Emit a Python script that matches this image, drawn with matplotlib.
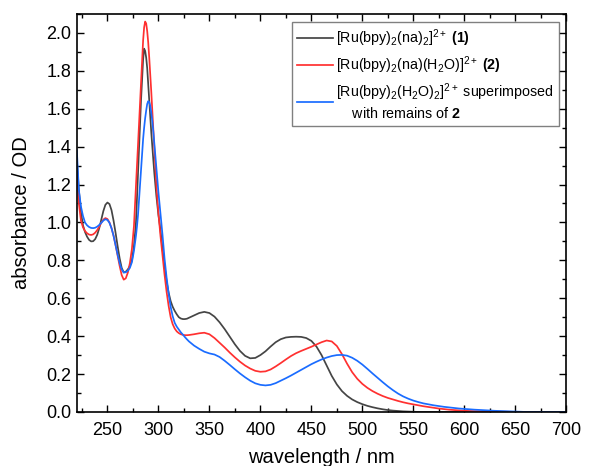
"""
plot.py

UV-vis absorbance spectra of the Ru(bpy)2 complexes.
"""
import numpy as np
import matplotlib
matplotlib.use('Agg')
import matplotlib.pyplot as plt
from matplotlib import rcParams
from matplotlib.ticker import MultipleLocator

# wavelength grid (nm), finer around the sharp band at ~287 nm
wavelength = np.concatenate([np.arange(220, 279, 2), np.arange(279, 298, 1),
                             np.arange(298, 331, 2), np.arange(335, 601, 5),
                             np.arange(610, 701, 10)])

# [Ru(bpy)2(na)2]2+ (1)
abs_1 = [1.33, 1.17, 1.055, 0.985, 0.95, 0.925, 0.908, 0.90, 0.901, 0.912,
         0.935, 0.97, 1.015, 1.06, 1.093, 1.105, 1.097, 1.065, 1.01, 0.945,
         0.875, 0.81, 0.76, 0.736, 0.74, 0.752, 0.77, 0.80, 0.875, 1.0,
         # 279-297
         1.13, 1.27, 1.40, 1.52, 1.65, 1.755, 1.86, 1.917, 1.905, 1.87,
         1.815, 1.73, 1.64, 1.555, 1.475, 1.40, 1.33, 1.26, 1.20,
         # 298-330
         1.14, 1.04, 0.96, 0.86, 0.77, 0.69, 0.63, 0.585, 0.555, 0.533,
         0.515, 0.50, 0.493, 0.49, 0.49, 0.492, 0.497,
         # 335-600
         0.51, 0.522, 0.528, 0.522, 0.503, 0.473, 0.437, 0.397, 0.357, 0.322,
         0.296, 0.283, 0.285, 0.30, 0.32, 0.345, 0.368, 0.384, 0.393, 0.396,
         0.397, 0.396, 0.39, 0.375, 0.345, 0.30, 0.245, 0.19, 0.145, 0.11,
         0.085, 0.066, 0.052, 0.041, 0.032, 0.025, 0.019, 0.014, 0.01, 0.007,
         0.005, 0.003, 0.002, 0.001, 0.0, 0.0, 0.0, 0.0, 0.0, 0.0,
         0.0, 0.0, 0.0, 0.0,
         # 610-700
         0.0, 0.0, 0.0, 0.0, 0.0, 0.0, 0.0, 0.0, 0.0, 0.0]

# [Ru(bpy)2(na)(H2O)]2+ (2)
abs_2 = [1.30, 1.10, 1.01, 0.975, 0.955, 0.943, 0.936, 0.934, 0.937, 0.946,
         0.96, 0.978, 0.998, 1.015, 1.023, 1.018, 1.0, 0.97, 0.93, 0.88,
         0.825, 0.77, 0.722, 0.698, 0.705, 0.735, 0.785, 0.86, 0.98, 1.19,
         # 279-297
         1.30, 1.41, 1.52, 1.635, 1.75, 1.86, 1.96, 2.03, 2.06, 2.05,
         2.01, 1.95, 1.87, 1.78, 1.69, 1.59, 1.49, 1.38, 1.285,
         # 298-330
         1.195, 1.05, 0.93, 0.825, 0.725, 0.635, 0.56, 0.50, 0.463, 0.44,
         0.425, 0.416, 0.41, 0.407, 0.405, 0.405, 0.406,
         # 335-600
         0.41, 0.415, 0.418, 0.41, 0.39, 0.365, 0.34, 0.313, 0.288, 0.265,
         0.245, 0.229, 0.217, 0.212, 0.214, 0.224, 0.24, 0.258, 0.277, 0.295,
         0.31, 0.322, 0.333, 0.344, 0.356, 0.368, 0.377, 0.372, 0.348, 0.305,
         0.255, 0.21, 0.175, 0.148, 0.127, 0.11, 0.096, 0.084, 0.074, 0.066,
         0.058, 0.051, 0.045, 0.04, 0.035, 0.03, 0.026, 0.022, 0.018, 0.015,
         0.012, 0.01, 0.008, 0.006,
         # 610-700
         0.004, 0.003, 0.002, 0.001, 0.0, 0.0, 0.0, 0.0, 0.0, 0.0]

# [Ru(bpy)2(H2O)2]2+ superimposed with remains of 2
abs_3 = [1.38, 1.17, 1.085, 1.035, 1.0, 0.985, 0.976, 0.971, 0.97, 0.972,
         0.978, 0.987, 0.998, 1.01, 1.017, 1.013, 0.998, 0.97, 0.93, 0.88,
         0.83, 0.785, 0.752, 0.736, 0.737, 0.745, 0.76, 0.79, 0.85, 0.93,
         # 279-297
         0.98, 1.04, 1.12, 1.20, 1.28, 1.36, 1.44, 1.50, 1.55, 1.59,
         1.625, 1.64, 1.635, 1.615, 1.58, 1.535, 1.48, 1.415, 1.345,
         # 298-330
         1.28, 1.16, 1.05, 0.935, 0.81, 0.71, 0.625, 0.555, 0.505, 0.47,
         0.45, 0.435, 0.42, 0.408, 0.395, 0.383, 0.372,
         # 335-600
         0.35, 0.333, 0.318, 0.309, 0.303, 0.29, 0.27, 0.248, 0.225, 0.203,
         0.183, 0.165, 0.151, 0.143, 0.14, 0.143, 0.152, 0.165, 0.178, 0.192,
         0.207, 0.222, 0.237, 0.252, 0.265, 0.277, 0.287, 0.295, 0.30, 0.301,
         0.297, 0.286, 0.27, 0.25, 0.227, 0.203, 0.18, 0.157, 0.135, 0.115,
         0.097, 0.082, 0.07, 0.06, 0.052, 0.045, 0.04, 0.035, 0.031, 0.027,
         0.024, 0.021, 0.018, 0.016,
         # 610-700
         0.012, 0.009, 0.006, 0.004, 0.002, 0.0, 0.0, 0.0, 0.0, 0.0]

labels = [r'[Ru(bpy)$_2$(na)$_2$]$^{2+}$ $\mathbf{(1)}$',
          r'[Ru(bpy)$_2$(na)(H$_2$O)]$^{2+}$ $\mathbf{(2)}$',
          '[Ru(bpy)$_2$(H$_2$O)$_2$]$^{2+}$ superimposed\n    with remains of $\\mathbf{2}$']
colors = ['#454545', '#ff3030', '#1a6cff']

# fonts
rcParams['font.family'] = 'sans-serif'
rcParams['font.sans-serif'] = ['Liberation Sans']
rcParams['mathtext.fontset'] = 'custom'
rcParams['mathtext.rm'] = 'Liberation Sans'
rcParams['mathtext.it'] = 'Liberation Sans:italic'
rcParams['mathtext.bf'] = 'Liberation Sans:bold'

fig = plt.figure(facecolor='white', figsize=(6.05, 4.66), dpi=100)
ax = fig.add_axes([0.127, 0.116, 0.809, 0.854])

for y, lab, c in zip([abs_1, abs_2, abs_3], labels, colors):
    ax.plot(wavelength, y, color=c, lw=1.25, label=lab)

ax.set_xlim(220, 700)
ax.set_ylim(0, 2.1)
ax.xaxis.set_major_locator(MultipleLocator(50))
ax.xaxis.set_minor_locator(MultipleLocator(25))
ax.yaxis.set_major_locator(MultipleLocator(0.2))
ax.yaxis.set_minor_locator(MultipleLocator(0.1))
ax.yaxis.set_major_formatter(plt.FormatStrFormatter('%.1f'))
ax.tick_params(which='both', direction='in', top=True, right=True, labelsize=13)
ax.tick_params(which='major', length=5, width=1)
ax.tick_params(which='minor', length=3, width=1)
ax.tick_params(axis='x', which='major', pad=7)
ax.tick_params(axis='y', which='major', pad=4)
for s in ax.spines.values():
    s.set_linewidth(1.2)

ax.set_xlabel('wavelength / nm', fontsize=14.5, labelpad=7)
ax.set_ylabel('absorbance / OD', fontsize=14.5, labelpad=11)

leg = ax.legend(loc='upper right', bbox_to_anchor=(0.985, 0.98), fontsize=10.3,
                fancybox=False, edgecolor='#606060', handlelength=2.5,
                handletextpad=0.25, borderpad=0.35, labelspacing=0.4, borderaxespad=0.0)
leg.get_frame().set_linewidth(1.0)

plt.savefig('out.png', dpi=100, facecolor='white')
